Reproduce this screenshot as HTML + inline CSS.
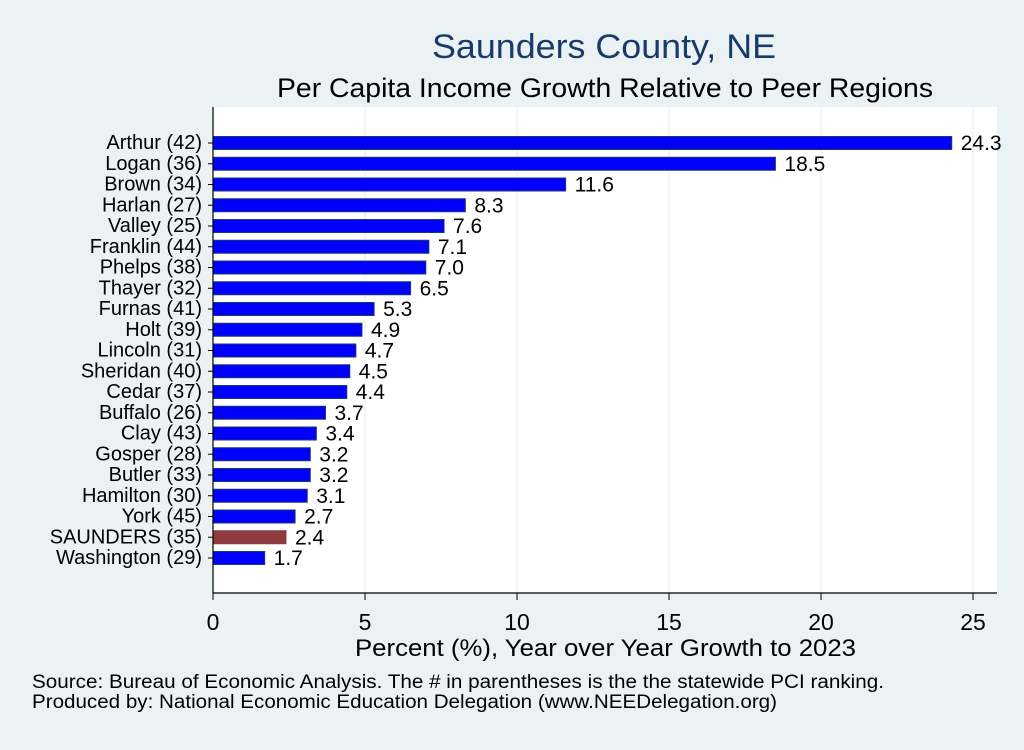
<!DOCTYPE html>
<html><head><meta charset="utf-8"><style>
body{margin:0;background:#eaf2f3;width:1024px;height:745px;overflow:hidden;font-family:"Liberation Sans",sans-serif}
</style></head><body>
<svg id="c" width="1024" height="745" xmlns="http://www.w3.org/2000/svg">
<rect x="0" y="0" width="1024" height="745" fill="#eaf2f3"/>
<rect x="213" y="107" width="784" height="486" fill="#ffffff"/>
<text x="432" y="58" font-size="34" fill="#1a3a6c" textLength="344" lengthAdjust="spacingAndGlyphs">Saunders County, NE</text>
<text x="277" y="97" font-size="27" fill="#000" textLength="656" lengthAdjust="spacingAndGlyphs">Per Capita Income Growth Relative to Peer Regions</text>
<g id="grid"></g><g id="bars"></g><g id="axis"></g>
<text x="355" y="656" font-size="24" textLength="501" lengthAdjust="spacingAndGlyphs">Percent (%), Year over Year Growth to 2023</text>
<text x="32" y="688" font-size="19" textLength="852" lengthAdjust="spacingAndGlyphs">Source: Bureau of Economic Analysis. The # in parentheses is the the statewide PCI ranking.</text>
<text x="32" y="708" font-size="19" textLength="745" lengthAdjust="spacingAndGlyphs">Produced by: National Economic Education Delegation (www.NEEDelegation.org)</text>
</svg>
<script>
const categories=["Arthur (42)","Logan (36)","Brown (34)","Harlan (27)","Valley (25)","Franklin (44)","Phelps (38)","Thayer (32)","Furnas (41)","Holt (39)","Lincoln (31)","Sheridan (40)","Cedar (37)","Buffalo (26)","Clay (43)","Gosper (28)","Butler (33)","Hamilton (30)","York (45)","SAUNDERS (35)","Washington (29)"];
const values=[24.3,18.5,11.6,8.3,7.6,7.1,7.0,6.5,5.3,4.9,4.7,4.5,4.4,3.7,3.4,3.2,3.2,3.1,2.7,2.4,1.7];
const highlight="SAUNDERS (35)";
const ticks=[0,5,10,15,20,25];
const NS="http://www.w3.org/2000/svg";
const x0=213,pxPer=30.4,yTop=143,step=20.75,bh=13,axisY=593;
const xs=v=>x0+v*pxPer;
const ys=i=>yTop+i*step;
function mk(t,a,p){const e=document.createElementNS(NS,t);for(const k in a)e.setAttribute(k,a[k]);p.appendChild(e);return e;}
const grid=document.getElementById('grid'),bars=document.getElementById('bars'),axis=document.getElementById('axis');
ticks.forEach(t=>{
 if(t>0){const g=mk('line',{x1:xs(t),x2:xs(t),y1:107,y2:axisY,stroke:'#e4eef2','stroke-width':1},grid);
 
 }
 const tk=mk('line',{x1:xs(t),x2:xs(t),y1:axisY,y2:axisY+7,stroke:'#000','stroke-width':1},axis);
 
 
 const tl=mk('text',{x:xs(t),y:630,'font-size':23,'text-anchor':'middle'},axis);tl.textContent=t;
 
 
});
const ax=mk('line',{x1:x0,x2:997,y1:axisY,y2:axisY,stroke:'#000','stroke-width':1.2},axis);


const ay=mk('line',{x1:x0,x2:x0,y1:107,y2:axisY,stroke:'#000','stroke-width':1.2},axis);


categories.forEach((c,i)=>{
 const y=ys(i),hl=c===highlight;
 const r=mk('rect',{x:x0,y:y-bh/2,width:xs(values[i])-x0,height:bh,fill:hl?'#8e3a3e':'#0000ff',stroke:hl?'#8e3a3e':'#1a3a6c','stroke-width':1},bars);
 
 
 const l=mk('text',{x:xs(values[i])+9,y:y+7,'font-size':21},bars);l.textContent=values[i].toFixed(1);
 
 
 const k=mk('text',{x:202,y:y+6,'font-size':20,'text-anchor':'end'},axis);k.textContent=c;
 
 
 const kt=mk('line',{x1:x0-5,x2:x0,y1:y,y2:y,stroke:'#000'},axis);
 
 
});
</script>
</body></html>
